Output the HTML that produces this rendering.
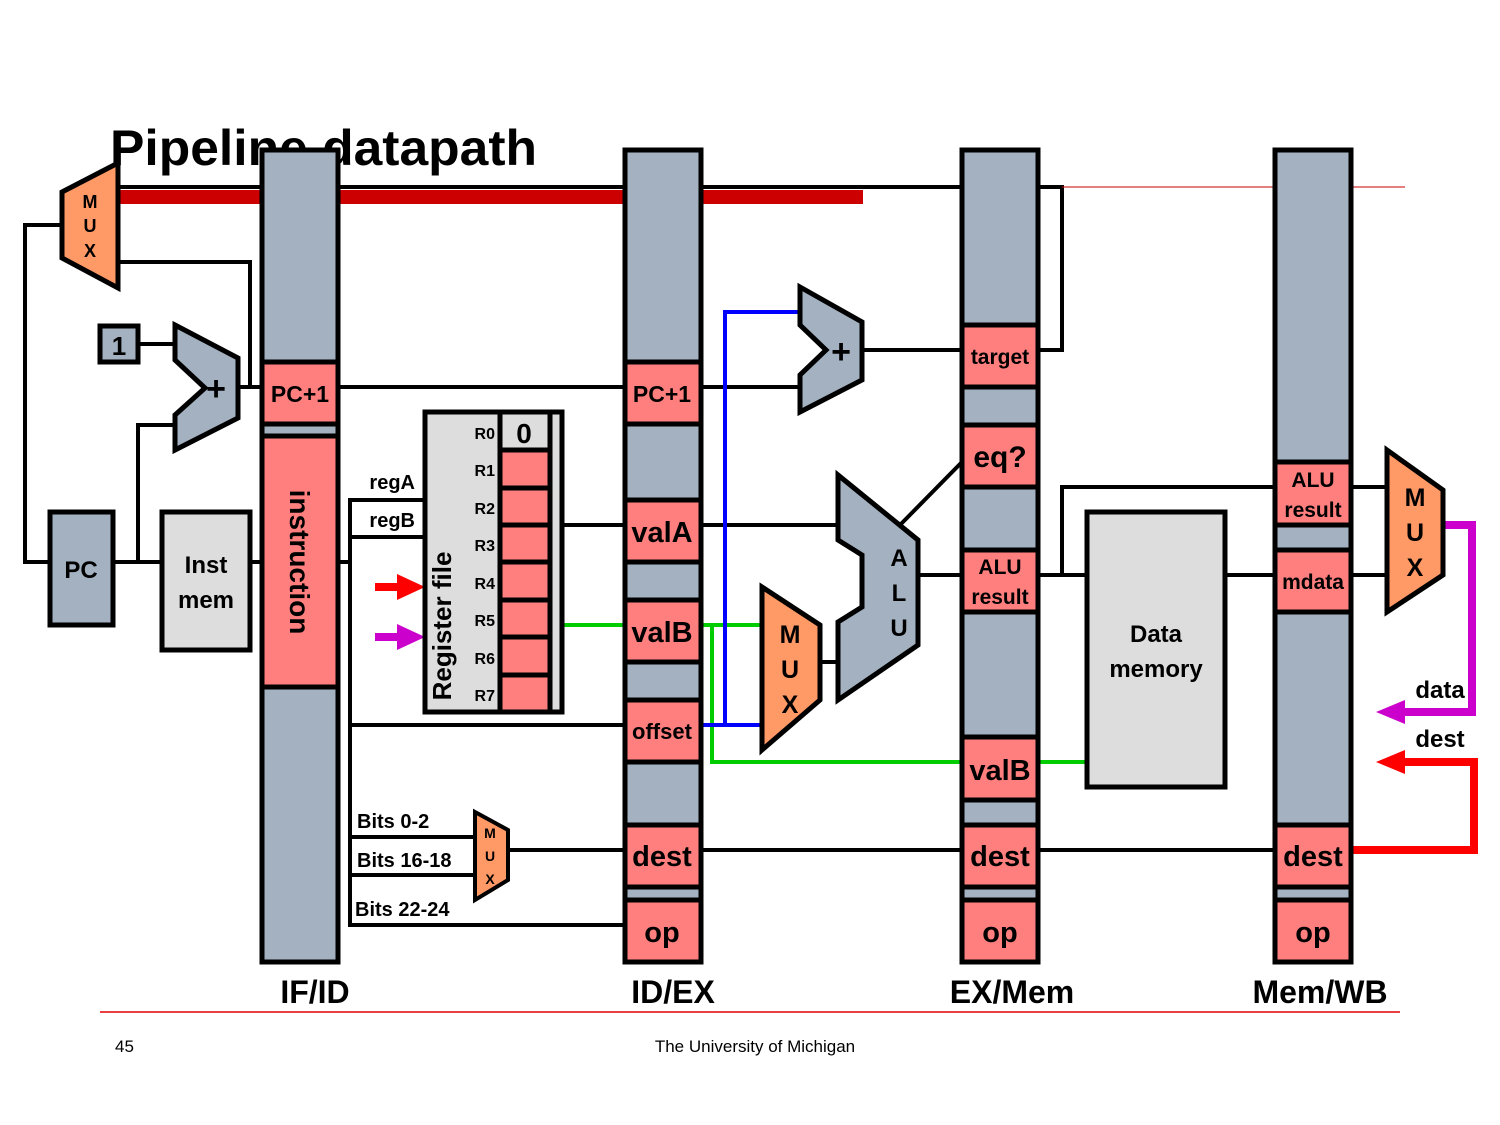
<!DOCTYPE html>
<html><head><meta charset="utf-8"><style>
html,body{margin:0;padding:0;background:#fff;}
svg{display:block;}
text{font-family:"Liberation Sans",sans-serif;font-weight:bold;fill:#000;}
</style></head><body>
<svg width="1500" height="1125" viewBox="0 0 1500 1125" xmlns="http://www.w3.org/2000/svg">
<!-- title -->
<text x="110" y="165" font-size="50" textLength="427" lengthAdjust="spacingAndGlyphs">Pipeline datapath</text>

<!-- top red bus -->
<rect x="118" y="190" width="745" height="14" fill="#CC0000"/>
<polyline points="118,187 1062,187 1062,350 1038,350" fill="none" stroke="#000" stroke-width="4"/>
<line x1="1062" y1="187" x2="1405" y2="187" stroke="#CC0000" stroke-width="1"/>

<g fill="none" stroke="#000" stroke-width="4">
<!-- IF stage wires -->
<polyline points="50,562 25,562 25,225 62,225"/>
<polyline points="118,262 250,262 250,388"/>
<line x1="238" y1="387" x2="625" y2="387"/>
<line x1="138" y1="344" x2="175" y2="344"/>
<polyline points="175,425 138,425 138,562"/>
<line x1="113" y1="562" x2="162" y2="562"/>
<line x1="250" y1="562" x2="262" y2="562"/>
<!-- ID stage wires -->
<line x1="338" y1="562" x2="350" y2="562"/>
<polyline points="425,500 350,500 350,925 625,925"/>
<line x1="350" y1="537" x2="425" y2="537"/>
<line x1="350" y1="725" x2="625" y2="725"/>
<line x1="350" y1="837" x2="475" y2="837"/>
<line x1="350" y1="875" x2="475" y2="875"/>
<line x1="508" y1="850" x2="625" y2="850"/>
<line x1="562" y1="525" x2="625" y2="525"/>
<!-- EX wires -->
<line x1="701" y1="387" x2="800" y2="387"/>
<line x1="862" y1="350" x2="962" y2="350"/>
<line x1="701" y1="525" x2="838" y2="525"/>
<line x1="820" y1="662" x2="838" y2="662"/>
<line x1="918" y1="575" x2="962" y2="575"/>
<line x1="900" y1="525" x2="962" y2="462"/>
<line x1="701" y1="850" x2="962" y2="850"/>
<!-- MEM wires -->
<line x1="1038" y1="575" x2="1087" y2="575"/>
<polyline points="1062,575 1062,487 1275,487"/>
<line x1="1225" y1="575" x2="1275" y2="575"/>
<line x1="1038" y1="850" x2="1275" y2="850"/>
<!-- WB wires -->
<line x1="1351" y1="487" x2="1387" y2="487"/>
<line x1="1351" y1="575" x2="1387" y2="575"/>
</g>

<!-- green -->
<g fill="none" stroke="#00CC00" stroke-width="4">
<line x1="562" y1="625" x2="625" y2="625"/>
<line x1="701" y1="625" x2="762" y2="625"/>
<polyline points="712,625 712,762 962,762"/>
<line x1="1038" y1="762" x2="1087" y2="762"/>
</g>
<!-- blue -->
<g fill="none" stroke="#0000FF" stroke-width="4">
<polyline points="701,725 762,725"/>
<polyline points="725,725 725,312 800,312"/>
</g>
<!-- magenta & red feedback -->
<polyline points="1443,525 1472,525 1472,712 1400,712" fill="none" stroke="#CC00CC" stroke-width="8"/>
<polygon points="1376,712 1405,700 1405,724" fill="#CC00CC"/>
<polyline points="1351,850 1474,850 1474,762 1400,762" fill="none" stroke="#FF0000" stroke-width="8"/>
<polygon points="1376,762 1405,750 1405,774" fill="#FF0000"/>
<text x="1440" y="698" font-size="24" text-anchor="middle">data</text>
<text x="1440" y="747" font-size="24" text-anchor="middle">dest</text>

<!-- red & magenta input arrows -->
<rect x="375" y="583" width="25" height="8" fill="#FF0000"/>
<polygon points="397,574 425,587 397,600" fill="#FF0000"/>
<rect x="375" y="633" width="25" height="8" fill="#CC00CC"/>
<polygon points="397,624 425,637 397,650" fill="#CC00CC"/>

<g stroke="#000" stroke-width="5">
<!-- top mux -->
<polygon points="62,192 118,163 118,288 62,258" fill="#FF9966"/>
<!-- adder 1 -->
<polygon points="175,325 238,358 238,418 175,450 175,415 205,388 175,360" fill="#A3B1C0"/>
<rect x="100" y="326" width="38" height="36" fill="#A3B1C0"/>
<!-- PC -->
<rect x="50" y="512" width="63" height="113" fill="#A3B1C0"/>
<rect x="162" y="512" width="88" height="138" fill="#DDDDDD"/>
<!-- adder 2 -->
<polygon points="800,287 862,322 862,380 800,412 800,375 826,350 800,325" fill="#A3B1C0"/>
<!-- ALU -->
<polygon points="838,475 918,540 918,645 838,700 838,622 862,607 862,555 838,540" fill="#A3B1C0"/>
<!-- mux ex -->
<polygon points="762,587 820,625 820,700 762,750" fill="#FF9966"/>
<!-- small mux -->
<polygon points="475,812 508,830 508,880 475,900" fill="#FF9966" stroke-width="4"/>
<!-- WB mux -->
<polygon points="1387,450 1443,490 1443,575 1387,612" fill="#FF9966"/>
<!-- data memory -->
<rect x="1087" y="512" width="138" height="275" fill="#DDDDDD"/>
<!-- register file -->
<rect x="425" y="412" width="137" height="300" fill="#DDDDDD"/>
<rect x="550" y="412" width="12" height="300" fill="#DDDDDD"/>
<rect x="500" y="412" width="50" height="38" fill="#DDDDDD"/>
<rect x="500" y="450" width="50" height="38" fill="#FF7F7F"/>
<rect x="500" y="488" width="50" height="37" fill="#FF7F7F"/>
<rect x="500" y="525" width="50" height="37" fill="#FF7F7F"/>
<rect x="500" y="562" width="50" height="38" fill="#FF7F7F"/>
<rect x="500" y="600" width="50" height="37" fill="#FF7F7F"/>
<rect x="500" y="637" width="50" height="38" fill="#FF7F7F"/>
<rect x="500" y="675" width="50" height="37" fill="#FF7F7F"/>

<!-- pipeline registers -->
<rect x="262" y="150" width="76" height="812" fill="#A3B1C0"/>
<rect x="262" y="362" width="76" height="62" fill="#FF7F7F"/>
<rect x="262" y="436" width="76" height="251" fill="#FF7F7F"/>

<rect x="625" y="150" width="76" height="812" fill="#A3B1C0"/>
<rect x="625" y="362" width="76" height="62" fill="#FF7F7F"/>
<rect x="625" y="500" width="76" height="62" fill="#FF7F7F"/>
<rect x="625" y="600" width="76" height="62" fill="#FF7F7F"/>
<rect x="625" y="700" width="76" height="62" fill="#FF7F7F"/>
<rect x="625" y="825" width="76" height="62" fill="#FF7F7F"/>
<rect x="625" y="900" width="76" height="62" fill="#FF7F7F"/>

<rect x="962" y="150" width="76" height="812" fill="#A3B1C0"/>
<rect x="962" y="325" width="76" height="62" fill="#FF7F7F"/>
<rect x="962" y="425" width="76" height="62" fill="#FF7F7F"/>
<rect x="962" y="550" width="76" height="62" fill="#FF7F7F"/>
<rect x="962" y="737" width="76" height="63" fill="#FF7F7F"/>
<rect x="962" y="825" width="76" height="62" fill="#FF7F7F"/>
<rect x="962" y="900" width="76" height="62" fill="#FF7F7F"/>

<rect x="1275" y="150" width="76" height="812" fill="#A3B1C0"/>
<rect x="1275" y="462" width="76" height="63" fill="#FF7F7F"/>
<rect x="1275" y="550" width="76" height="62" fill="#FF7F7F"/>
<rect x="1275" y="825" width="76" height="62" fill="#FF7F7F"/>
<rect x="1275" y="900" width="76" height="62" fill="#FF7F7F"/>
</g>

<!-- labels -->
<g text-anchor="middle">
<text x="90" y="208" font-size="18">M</text>
<text x="90" y="232" font-size="18">U</text>
<text x="90" y="257" font-size="18">X</text>
<text x="119" y="355" font-size="26">1</text>
<text x="216" y="400" font-size="34">+</text>
<text x="841" y="363" font-size="34">+</text>
<text x="81" y="578" font-size="24">PC</text>
<text x="206" y="573" font-size="24">Inst</text>
<text x="206" y="608" font-size="24">mem</text>
<text x="300" y="402" font-size="23">PC+1</text>
<text x="662" y="402" font-size="23">PC+1</text>
<text x="662" y="542" font-size="29">valA</text>
<text x="662" y="642" font-size="29">valB</text>
<text x="662" y="739" font-size="22">offset</text>
<text x="662" y="866" font-size="29">dest</text>
<text x="662" y="942" font-size="29">op</text>
<text x="1000" y="364" font-size="21">target</text>
<text x="1000" y="467" font-size="30">eq?</text>
<text x="1000" y="574" font-size="21">ALU</text>
<text x="1000" y="604" font-size="21">result</text>
<text x="1000" y="780" font-size="29">valB</text>
<text x="1000" y="866" font-size="29">dest</text>
<text x="1000" y="942" font-size="29">op</text>
<text x="1313" y="487" font-size="21">ALU</text>
<text x="1313" y="517" font-size="21">result</text>
<text x="1313" y="589" font-size="21">mdata</text>
<text x="1313" y="866" font-size="29">dest</text>
<text x="1313" y="942" font-size="29">op</text>
<text x="790" y="643" font-size="25">M</text>
<text x="790" y="678" font-size="25">U</text>
<text x="790" y="713" font-size="25">X</text>
<text x="899" y="566" font-size="24">A</text>
<text x="899" y="601" font-size="24">L</text>
<text x="899" y="636" font-size="24">U</text>
<text x="1415" y="506" font-size="25">M</text>
<text x="1415" y="541" font-size="25">U</text>
<text x="1415" y="576" font-size="25">X</text>
<text x="490" y="838" font-size="14">M</text>
<text x="490" y="861" font-size="14">U</text>
<text x="490" y="884" font-size="14">X</text>
<text x="1156" y="642" font-size="24">Data</text>
<text x="1156" y="677" font-size="24">memory</text>
<text x="524" y="443" font-size="28">0</text>
<text x="315" y="1003" font-size="32">IF/ID</text>
<text x="673" y="1003" font-size="32">ID/EX</text>
<text x="1012" y="1003" font-size="32">EX/Mem</text>
<text x="1320" y="1003" font-size="32">Mem/WB</text>
</g>
<text x="300" y="562" font-size="28" text-anchor="middle" transform="rotate(90 300 562)" dy="10">instruction</text>
<text x="442" y="626" font-size="26" text-anchor="middle" transform="rotate(-90 442 626)" dy="9">Register file</text>
<g font-size="16" text-anchor="end">
<text x="495" y="439">R0</text><text x="495" y="476">R1</text><text x="495" y="514">R2</text>
<text x="495" y="551">R3</text><text x="495" y="589">R4</text><text x="495" y="626">R5</text>
<text x="495" y="664">R6</text><text x="495" y="701">R7</text>
</g>
<text x="415" y="489" font-size="20" text-anchor="end">regA</text>
<text x="415" y="527" font-size="20" text-anchor="end">regB</text>
<text x="357" y="828" font-size="20">Bits 0-2</text>
<text x="357" y="867" font-size="20">Bits 16-18</text>
<text x="355" y="916" font-size="20">Bits 22-24</text>

<!-- footer -->
<line x1="100" y1="1012" x2="1400" y2="1012" stroke="#E00000" stroke-width="1.5"/>
<text x="115" y="1052" font-size="17" style="font-weight:normal">45</text>
<text x="755" y="1052" font-size="17" text-anchor="middle" style="font-weight:normal">The University of Michigan</text>
</svg>
</body></html>
